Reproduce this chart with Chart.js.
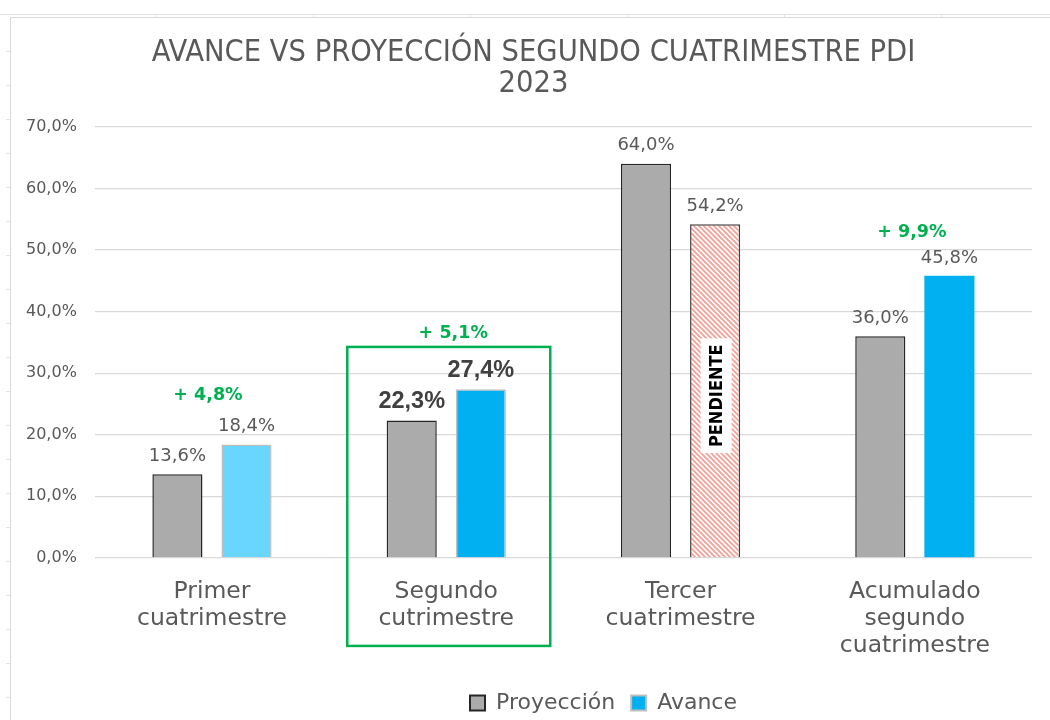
<!DOCTYPE html>
<html>
<head>
<meta charset="utf-8">
<script src="https://cdn.jsdelivr.net/npm/chart.js@4/dist/chart.umd.min.js"></script>
<style>
html,body{margin:0;padding:0;background:#fff;width:1050px;height:720px;overflow:hidden;}
#sheetTop{position:absolute;left:0;top:14px;width:1050px;height:1px;background:#E3E3E3;}
#colTicks{position:absolute;left:0;top:14px;width:1050px;height:4px;
  background:repeating-linear-gradient(to right,transparent 0 156px,#E3E3E3 156px 157px);}
#rowTicks{position:absolute;left:6px;top:18px;width:5px;height:702px;
  background:repeating-linear-gradient(to bottom,transparent 0 33px,#E3E3E3 33px 34px);}
#frame{position:absolute;left:10px;top:17px;width:1040px;height:703px;border-left:1px solid #D9D9D9;border-top:1px solid #D9D9D9;background:#fff;}
#wrap{position:absolute;left:11px;top:18px;width:1039px;height:702px;}
</style>
</head>
<body>
<div id="sheetTop"></div>
<div id="colTicks"></div>
<div id="rowTicks"></div>
<div id="frame"></div>
<div id="wrap"><canvas id="c"></canvas></div>
<script>
// ---- data ----
const categories = [["Primer","cuatrimestre"],["Segundo","cutrimestre"],["Tercer","cuatrimestre"],["Acumulado","segundo","cuatrimestre"]];
const proyeccion = [13.6, 22.3, 64.0, 36.0];
const avance = [18.4, 27.4, 54.2, 45.8];
const diffLabels = ["+ 4,8%", "+ 5,1%", null, "+ 9,9%"];
const pendingLabel = [null, null, "PENDIENTE", null];
const yTicks = [0,10,20,30,40,50,60,70];
const highlightIndex = 1;
const titleLines = ["AVANCE VS PROYECCIÓN SEGUNDO CUATRIMESTRE PDI","2023"];

// ---- styles ----
const GRAY = '#ABABAB';
const BLUE = '#00B0F0';
const LIGHTBLUE = '#69D6FF';
const TXT = '#595959';
const GREEN = '#00B050';

function fmt(v){ return v.toFixed(1).replace('.', ',') + '%'; }

function makeHatch(ctx){
  const s = 5;
  const c = document.createElement('canvas');
  c.width = s; c.height = s;
  const g = c.getContext('2d');
  g.fillStyle = '#fff'; g.fillRect(0,0,s,s);
  g.strokeStyle = '#F4A29A'; g.lineWidth = 1.9;
  g.beginPath();
  g.moveTo(-1,-1); g.lineTo(s+1,s+1);
  g.moveTo(-s-1,-1); g.lineTo(1,s+1);
  g.moveTo(s-1,-1); g.lineTo(2*s+1,s+1);
  g.stroke();
  return ctx.createPattern(c,'repeat');
}

const canvas = document.getElementById('c');
const hatch = makeHatch(canvas.getContext('2d'));

const labelPlugin = {
  id: 'valueLabels',
  afterDatasetsDraw(chart){
    const ctx = chart.ctx;
    const area = chart.chartArea;
    const x = chart.scales.x;
    ctx.save();
    ctx.textAlign = 'center';
    ctx.textBaseline = 'middle';
    chart.data.datasets.forEach((ds, di) => {
      const meta = chart.getDatasetMeta(di);
      meta.data.forEach((bar, i) => {
        const hl = i === highlightIndex;
        ctx.font = hl ? 'bold 23.5px "Liberation Sans", Arial, sans-serif' : '18px "DejaVu Sans", sans-serif';
        ctx.fillStyle = hl ? '#404040' : TXT;
        ctx.fillText(fmt(ds.data[i]), bar.x, bar.y - (hl ? 19 : 18));
      });
    });
    // difference labels
    const avMeta = chart.getDatasetMeta(1);
    const diffOffsets = [49, 56, 0, 43];
    const diffDx = [-4, 7, 0, -3];
    ctx.font = 'bold 17.5px "DejaVu Sans", sans-serif';
    ctx.fillStyle = GREEN;
    diffLabels.forEach((t, i) => {
      if (!t) return;
      const cx = x.getPixelForValue(i) + diffDx[i];
      ctx.fillText(t, cx, avMeta.data[i].y - diffOffsets[i]);
    });
    // pending label
    pendingLabel.forEach((t, i) => {
      if (!t) return;
      const bar = avMeta.data[i];
      const cy = (bar.y + bar.base) / 2 + 5;
      ctx.save();
      ctx.translate(bar.x + 1, cy);
      ctx.rotate(-Math.PI / 2);
      ctx.font = 'bold 18px "DejaVu Sans Condensed", "DejaVu Sans", sans-serif';
      const w = ctx.measureText(t).width;
      ctx.fillStyle = '#fff';
      ctx.fillRect(-w/2 - 6, -15.5, w + 12, 31);
      ctx.fillStyle = '#000';
      ctx.fillText(t, 0, 1);
      ctx.restore();
    });
    // highlight box
    const hx = x.getPixelForValue(highlightIndex);
    ctx.strokeStyle = GREEN;
    ctx.lineWidth = 2.5;
    ctx.strokeRect(hx - 99, area.bottom - 211, 203, 299);
    ctx.restore();
  }
};

const boxShift = {
  id: 'boxShift',
  afterLayout(chart){
    const lg = chart.legend;
    if (lg) { lg.left += 82; lg.right += 82; lg.top += 4; lg.bottom += 4; }
    const tb = chart.titleBlock;
    if (tb) { tb.left += 12; tb.right += 12; }
  }
};

new Chart(canvas, {
  type: 'bar',
  data: {
    labels: categories,
    datasets: [
      {
        label: 'Proyección',
        data: proyeccion,
        backgroundColor: GRAY,
        borderColor: '#262626',
        borderWidth: 1.5,
        categoryPercentage: 0.59,
        barPercentage: 0.725
      },
      {
        label: 'Avance',
        data: avance,
        backgroundColor: [LIGHTBLUE, BLUE, hatch, BLUE],
        borderColor: ['#BFBFBF', '#BFBFBF', '#404040', BLUE],
        borderWidth: [1.5, 1.5, 1.5, 0],
        categoryPercentage: 0.59,
        barPercentage: 0.725
      }
    ]
  },
  options: {
    responsive: true,
    maintainAspectRatio: false,
    animation: false,
    layout: { padding: { left: 0, right: 18, top: 0, bottom: 0 } },
    plugins: {
      title: {
        display: true,
        text: titleLines,
        color: TXT,
        font: { family: '"DejaVu Sans Condensed", "DejaVu Sans", sans-serif', size: 30.5, weight: 'normal', lineHeight: 1.03 },
        padding: { top: 19, bottom: 27 }
      },
      legend: {
        position: 'bottom',
        labels: {
          color: TXT,
          font: { family: '"DejaVu Sans", sans-serif', size: 22 },
          boxWidth: 15,
          boxHeight: 15,
          padding: 16,
          generateLabels(chart){
            const fills = [GRAY, BLUE];
            const strokes = ['#262626', '#BFBFBF'];
            return chart.data.datasets.map((ds, i) => ({
              text: ds.label, fillStyle: fills[i], strokeStyle: strokes[i],
              lineWidth: 2, hidden: false, datasetIndex: i, fontColor: TXT
            }));
          }
        }
      },
      tooltip: { enabled: false }
    },
    scales: {
      x: {
        grid: { display: false },
        border: { display: false },
        afterFit(scale){ scale.height += 1; },
        ticks: {
          color: TXT,
          font: { family: '"DejaVu Sans", sans-serif', size: 23.5, lineHeight: 1.15 },
          padding: 12,
          maxRotation: 0
        }
      },
      y: {
        min: yTicks[0],
        max: yTicks[yTicks.length - 1],
        afterFit(scale){ scale.width -= 3; },
        afterBuildTicks(axis){ axis.ticks = yTicks.map(v => ({ value: v })); },
        ticks: {
          color: TXT,
          font: { family: '"DejaVu Sans", sans-serif', size: 16 },
          padding: 18,
          callback: v => fmt(v)
        },
        grid: { color: '#D9D9D9', drawTicks: false, lineWidth: 1.2 },
        border: { display: false }
      }
    }
  },
  plugins: [labelPlugin, boxShift]
});
</script>
</body>
</html>
